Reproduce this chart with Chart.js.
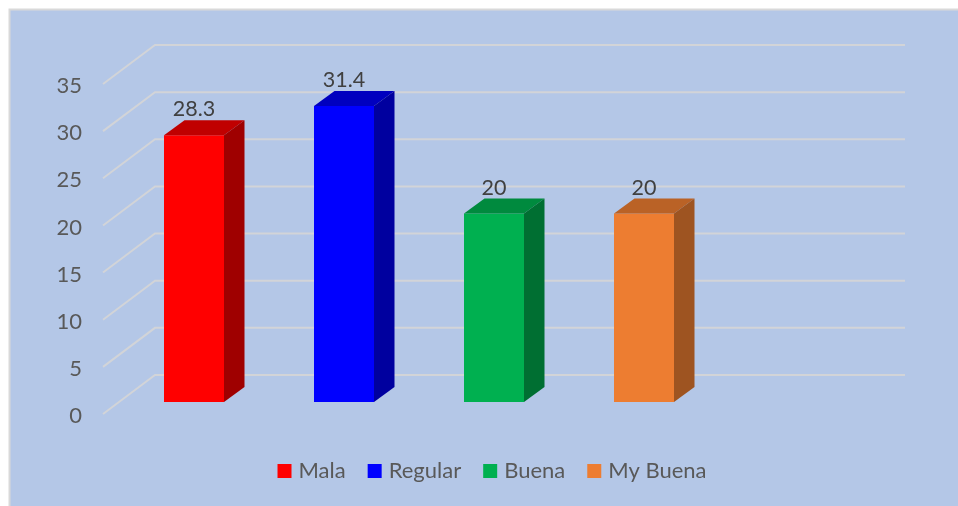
<!DOCTYPE html>
<html>
<head>
<meta charset="utf-8">
<title>Chart</title>
<script src="https://cdn.jsdelivr.net/npm/chart.js@4"></script>
<style>
    html, body { margin: 0; padding: 0; background: #fff; overflow: hidden; }
    canvas { display: block; }
</style>
</head>
<body>
<canvas id="barChart" width="958" height="506"></canvas>
<script>
const categories = ["Mala", "Regular", "Buena", "My Buena"];
const values = [28.3, 31.4, 20, 20];
const frontColors = ["#FF0000", "#0000FF", "#00B050", "#ED7D31"];
const topColors = ["#C00000", "#0000BF", "#008A3E", "#BA6226"];
const sideColors = ["#9F0000", "#00009F", "#006F32", "#9E5421"];

// 3d look, offsets in px
const wallDx = 36, wallDy = -27;   // back wall of the grid
const floorDx = -16, floorDy = 12; // front edge of the grid
const barDx = 20.5, barDy = -15;   // depth of the bars

const font3d = "Lato";

const backdrop = {
    id: "backdrop",
    beforeDraw(chart) {
        const ctx = chart.ctx;
        ctx.save();
        ctx.fillStyle = "#B4C7E7";
        ctx.fillRect(9, 9, chart.width, chart.height);
        ctx.strokeStyle = "#D9D9D9";
        ctx.lineWidth = 2;
        ctx.beginPath();
        ctx.moveTo(9.5, chart.height);
        ctx.lineTo(9.5, 9.5);
        ctx.lineTo(chart.width, 9.5);
        ctx.stroke();
        ctx.restore();
    }
};

const grid3d = {
    id: "grid3d",
    beforeDatasetsDraw(chart) {
        const ctx = chart.ctx;
        const y = chart.scales.y;
        const a = chart.chartArea;
        ctx.save();
        ctx.strokeStyle = "#D2D4D8";
        ctx.lineWidth = 2;
        y.ticks.forEach(t => {
            const p = y.getPixelForValue(t.value);
            ctx.beginPath();
            ctx.moveTo(a.left + floorDx, p + floorDy);
            ctx.lineTo(a.left + wallDx, p + wallDy);
            ctx.lineTo(a.right + wallDx, p + wallDy);
            ctx.stroke();
        });
        ctx.restore();
    }
};

const bars3d = {
    id: "bars3d",
    afterDatasetsDraw(chart) {
        const ctx = chart.ctx;
        chart.getDatasetMeta(0).data.forEach((bar, i) => {
            if (values[i] === undefined) return;
            const l = bar.x - bar.width / 2;
            const r = bar.x + bar.width / 2;
            ctx.save();
            // top face
            ctx.fillStyle = topColors[i];
            ctx.beginPath();
            ctx.moveTo(l, bar.y);
            ctx.lineTo(l + barDx, bar.y + barDy);
            ctx.lineTo(r + barDx, bar.y + barDy);
            ctx.lineTo(r, bar.y);
            ctx.closePath();
            ctx.fill();
            // side face
            ctx.fillStyle = sideColors[i];
            ctx.beginPath();
            ctx.moveTo(r, bar.y);
            ctx.lineTo(r + barDx, bar.y + barDy);
            ctx.lineTo(r + barDx, bar.base + barDy);
            ctx.lineTo(r, bar.base);
            ctx.closePath();
            ctx.fill();
            // value over the bar
            ctx.fillStyle = "#404040";
            ctx.font = "21.5px " + font3d;
            ctx.textAlign = "center";
            ctx.textBaseline = "bottom";
            ctx.fillText(String(values[i]), bar.x, bar.y - 15);
            ctx.restore();
        });
    }
};

new Chart(document.getElementById("barChart"), {
    type: "bar",
    data: {
        labels: categories.concat([""]), // last slot stays empty
        datasets: [{
            data: values,
            backgroundColor: frontColors,
            barPercentage: 0.4,
            categoryPercentage: 1
        }]
    },
    plugins: [backdrop, grid3d, bars3d],
    options: {
        responsive: false,
        animation: false,
        layout: { padding: { left: 0, right: 89, top: 72, bottom: 14 } },
        scales: {
            x: {
                grid: { display: false },
                border: { display: false },
                ticks: { display: false },
                afterFit(scale) { scale.height = 32; }
            },
            y: {
                min: 0,
                max: 35,
                grid: { display: false },
                border: { display: false },
                ticks: {
                    stepSize: 5,
                    padding: 29,
                    labelOffset: 14,
                    color: "#595959",
                    font: { family: font3d, size: 22 }
                },
                afterFit(scale) { scale.width = 119; }
            }
        },
        plugins: {
            tooltip: { enabled: false },
            legend: {
                position: "bottom",
                fullSize: false,
                labels: {
                    boxWidth: 6,
                    boxHeight: 6,
                    padding: 26,
                    font: { family: font3d, size: 22 },
                    generateLabels() {
                        return categories.map((c, i) => ({
                            text: c,
                            fontColor: "#595959",
                            fillStyle: frontColors[i],
                            strokeStyle: frontColors[i],
                            lineWidth: 8,
                            index: i
                        }));
                    }
                }
            }
        }
    }
});
</script>
</body>
</html>
